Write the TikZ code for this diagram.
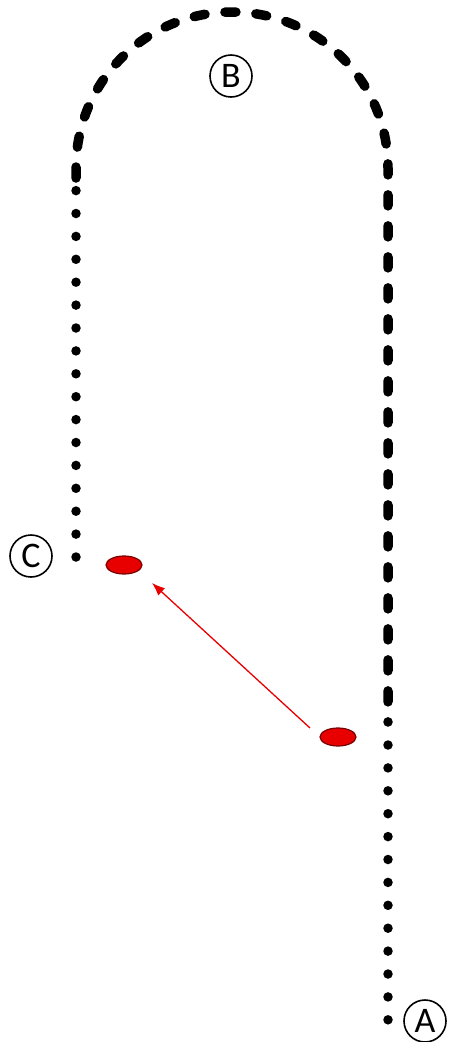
\documentclass[tikz,border=0pt]{standalone}
\usepackage{fontspec}
\setmainfont{Carlito}
\usetikzlibrary{shapes.geometric,arrows.meta}
\definecolor{spotred}{RGB}{232,0,0}
\definecolor{spotedge}{RGB}{120,0,0}
\tikzset{
  dashline/.style={line width=9.5pt, line cap=round, dash pattern=on 11pt off 20pt},
  dotline/.style={line width=9.5pt, line cap=round, dash pattern=on 0pt off 22.9pt},
  letterbox/.style={circle, draw, line width=1.6pt, minimum size=42pt, inner sep=0pt, font=\fontsize{36}{36}\selectfont},
  spot/.style={ellipse, fill=spotred, draw=spotedge, line width=1.2pt, minimum width=36pt, minimum height=18pt, inner sep=0pt},
  movearrow/.style={draw=spotred, line width=1.3pt, -{Latex[length=13pt,width=10pt]}}
}
\begin{document}
\begin{tikzpicture}[x=1pt,y=-1pt]
\useasboundingbox (0,0) rectangle (448,1042);
% path points
\coordinate (cbottom) at (76,557);
\coordinate (ctop) at (76,190);
\coordinate (dstart) at (76,178);
\coordinate (dend) at (388,722);
\coordinate (atop) at (388,745);
\coordinate (abottom) at (388,1020);
\coordinate (arrowtail) at (310,728);
\coordinate (arrowtip) at (152,583);
% letters
\node[letterbox] (B) at (231,76) {B};
\node[letterbox] (C) at (31,556) {C};
\node[letterbox] (A) at (425,1021) {A};
% path
\draw[dotline] (cbottom) -- (ctop);
\draw[dashline] (dstart) -- (76,168) arc[start angle=180, end angle=360, radius=156] -- (dend);
\draw[dotline] (atop) -- (abottom);
% spots
\node[spot] (s1) at (124,565) {};
\node[spot] (s2) at (338,737) {};
\draw[movearrow] (arrowtail) -- (arrowtip);
\end{tikzpicture}
\end{document}
